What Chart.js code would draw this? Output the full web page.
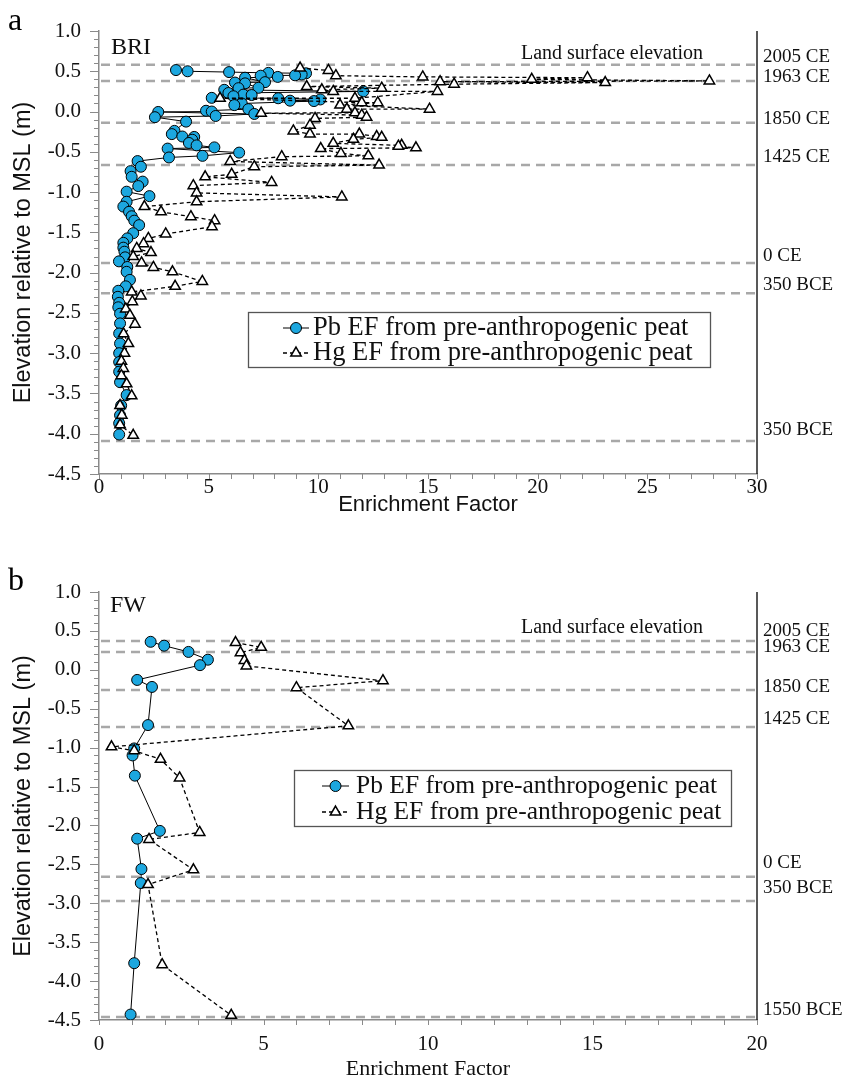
<!DOCTYPE html>
<html><head><meta charset="utf-8">
<script src="https://cdn.jsdelivr.net/npm/chart.js@4.4.1/dist/chart.umd.min.js"></script>
<style>
html,body{margin:0;padding:0;background:#fff;}
#wrap{position:relative;width:845px;height:1083px;overflow:hidden;}
#c1{position:absolute;left:0;top:0;}
#c2{position:absolute;left:0;top:540px;}
</style></head><body>
<div id="wrap">
<canvas id="c1" width="845" height="540"></canvas>
<canvas id="c2" width="845" height="543"></canvas>
</div>
<script>
// ---------------- DATA ----------------
const seriesNames = ['Pb EF from pre-anthropogenic peat', 'Hg EF from pre-anthropogenic peat'];
const axisTitleX = 'Enrichment Factor';
const axisTitleY = 'Elevation relative to MSL (m)';
const surfaceText = 'Land surface elevation';

// Panel a : BRI
const briPbEF = [3.51,4.04,5.93,7.72,9.44,9.24,8.94,7.37,8.15,6.66,7.57,6.2,6.66,7.27,6.36,5.71,12.05,5.9,6.58,6.96,6.13,5.14,8.17,10.09,8.71,9.8,6.51,6.17,6.81,4.88,5.14,2.7,7.08,5.32,2.55,3.97,3.44,3.32,3.8,4.34,4.25,4.1,4.45,5.26,3.13,6.39,4.72,3.19,1.76,1.91,1.44,1.49,1.99,1.79,1.26,2.3,1.26,1.11,1.37,1.49,1.61,1.83,1.56,1.29,1.11,1.11,1.16,1.19,0.91,1.29,1.26,1.41,1.22,0.88,0.86,0.92,0.88,0.96,0.96,0.92,0.96,0.92,0.92,0.92,0.96,1.26,1.01,0.96,0.92,0.92];
const briPbElev = [0.515,0.50,0.49,0.48,0.475,0.46,0.45,0.445,0.43,0.42,0.365,0.36,0.35,0.295,0.29,0.27,0.25,0.23,0.21,0.205,0.19,0.17,0.165,0.15,0.135,0.13,0.10,0.08,0.03,0.01,0.0,-0.005,-0.03,-0.055,-0.07,-0.125,-0.24,-0.28,-0.31,-0.315,-0.35,-0.39,-0.42,-0.445,-0.46,-0.51,-0.55,-0.57,-0.615,-0.685,-0.74,-0.81,-0.87,-0.925,-0.995,-1.05,-1.12,-1.18,-1.245,-1.30,-1.355,-1.41,-1.51,-1.575,-1.63,-1.69,-1.74,-1.81,-1.86,-1.93,-1.99,-2.09,-2.17,-2.225,-2.30,-2.375,-2.43,-2.51,-2.63,-2.755,-2.88,-3.0,-3.11,-3.23,-3.36,-3.52,-3.65,-3.77,-3.87,-4.01];
const briHgEF = [9.17,10.46,10.8,14.76,22.27,19.73,27.83,15.55,23.08,16.19,9.47,12.89,10.16,10.68,15.43,11.67,5.52,11.98,12.71,10.99,15.07,11.3,11.67,7.39,11.98,12.2,9.85,9.62,8.86,9.62,11.87,12.66,12.89,11.6,10.68,13.8,13.65,14.45,10.11,11.03,12.28,8.33,5.98,12.77,7.08,6.05,4.84,7.87,4.3,4.45,11.07,4.45,2.07,2.83,4.19,5.27,5.15,3.04,2.25,2.03,1.72,2.37,1.56,1.94,2.48,3.35,4.71,3.47,1.49,1.91,1.52,1.22,1.41,1.64,1.12,1.34,1.16,1.02,1.11,1.02,1.26,1.49,0.96,1.04,0.96,1.56];
const briHgElev = [0.54,0.51,0.445,0.43,0.42,0.40,0.38,0.37,0.36,0.34,0.31,0.29,0.27,0.25,0.25,0.165,0.165,0.11,0.11,0.08,0.03,0.03,-0.015,-0.02,-0.045,-0.07,-0.085,-0.17,-0.24,-0.28,-0.28,-0.31,-0.32,-0.345,-0.395,-0.42,-0.43,-0.45,-0.46,-0.52,-0.55,-0.56,-0.62,-0.665,-0.685,-0.78,-0.81,-0.88,-0.92,-1.01,-1.06,-1.12,-1.18,-1.245,-1.305,-1.355,-1.43,-1.52,-1.575,-1.64,-1.70,-1.75,-1.80,-1.88,-1.935,-1.99,-2.11,-2.17,-2.24,-2.29,-2.36,-2.45,-2.53,-2.64,-2.76,-2.88,-3.0,-3.1,-3.19,-3.28,-3.38,-3.53,-3.65,-3.77,-3.89,-4.02];
const briRefElev = [0.58, 0.38, -0.14, -0.665, -1.88, -2.255, -4.09];
const briRefLabels = ['2005 CE', '1963 CE', '1850 CE', '1425 CE', '0 CE', '350 BCE', '350 BCE'];

// Panel b : FW
const fwPbEF = [1.57,1.98,2.72,3.31,3.07,1.16,1.61,1.49,1.07,1.02,1.09,1.85,1.16,1.29,1.27,1.07,0.96];
const fwPbElev = [0.36,0.31,0.23,0.13,0.06,-0.13,-0.22,-0.71,-1.01,-1.1,-1.36,-2.07,-2.17,-2.56,-2.74,-3.77,-4.43];
const fwHgEF = [4.15,4.93,4.3,4.42,4.48,8.63,6.0,7.58,0.38,1.07,1.87,2.45,3.06,1.52,2.87,1.49,1.92,4.02];
const fwHgElev = [0.35,0.29,0.22,0.12,0.05,-0.14,-0.23,-0.72,-0.99,-1.04,-1.15,-1.39,-2.09,-2.18,-2.57,-2.76,-3.79,-4.44];
const fwRefElev = [0.37, 0.23, -0.26, -0.735, -2.66, -2.97, -4.46];
const fwRefLabels = ['2005 CE', '1963 CE', '1850 CE', '1425 CE', '0 CE', '350 BCE', '1550 BCE'];

// ---------------- LAYOUT / STYLE ----------------
const SERIF = "'Liberation Serif','Times New Roman',serif";
const SANS = "'Liberation Sans',Arial,sans-serif";
const PB_FILL = '#1ca7df';

const layoutA = {
  canvas: 'c1', site: 'BRI', letter: 'a', xMax: 30,
  pad: {top: 31, right: 88, bottom: 20, left: 0}, yW: 99, xH: 46,
  xTickPad: -7, xTitleFont: {family: SANS, size: 22}, xTitlePad: 2,
  refLabelDy: [-8, -4, -4, -8, -7, -8, -11], surfaceDy: -11,
  siteXY: [111, 54], letterXY: [8, 30],
  legend: {x: 248, y: 312, w: 462, h: 55, rows: [328, 353], line: [283, 309], textX: 313, font: 26.5}
};
const layoutB = {
  canvas: 'c2', site: 'FW', letter: 'b', xMax: 20,
  pad: {top: 52, right: 88, bottom: 1, left: 0}, yW: 99, xH: 62,
  xTickPad: 4, xTitleFont: {family: SERIF, size: 22}, xTitlePad: 0,
  refLabelDy: [-10, -5, -3, -8, -14, -13, -7], surfaceDy: -13,
  siteXY: [110, 72], letterXY: [8, 50],
  legend: {x: 294, y: 230, w: 437, h: 56, rows: [246, 272], line: [322, 349], textX: 356, font: 25.5}
};

function pts(xs, ys) { return xs.map((x, i) => ({x: x, y: ys[i]})); }

const decor = {
  id: 'decor',
  beforeDatasetsDraw(chart, args, o) {
    const {ctx, chartArea: a, scales: {y}} = chart;
    ctx.save();
    ctx.strokeStyle = '#a8a8a8'; ctx.lineWidth = 2.5; ctx.setLineDash([9, 6]);
    o.refElev.forEach(v => {
      const py = y.getPixelForValue(v);
      ctx.beginPath(); ctx.moveTo(a.left + 2, py); ctx.lineTo(a.right - 1, py); ctx.stroke();
    });
    ctx.restore();
  },
  afterDraw(chart, args, o) {
    const {ctx, chartArea: a, scales: {x, y}} = chart;
    const L = o.layout;
    ctx.save();
    // minor/major ticks
    ctx.strokeStyle = '#8a8a8a'; ctx.lineWidth = 1;
    for (let v = y.max; v >= y.min - 1e-9; v -= 0.1) {
      const py = Math.round(y.getPixelForValue(v)) + 0.5;
      const major = Math.abs(v * 2 - Math.round(v * 2)) < 1e-6;
      const len = major ? 9 : 5;
      ctx.beginPath(); ctx.moveTo(a.left - len, py); ctx.lineTo(a.left, py); ctx.stroke();
    }
    for (let v = x.min; v <= x.max + 1e-9; v += 1) {
      const px = Math.round(x.getPixelForValue(v)) + 0.5;
      ctx.beginPath(); ctx.moveTo(px, a.bottom); ctx.lineTo(px, a.bottom + 5); ctx.stroke();
    }
    // right frame line
    ctx.strokeStyle = '#222'; ctx.lineWidth = 1.5;
    ctx.beginPath(); ctx.moveTo(a.right, a.top); ctx.lineTo(a.right, a.bottom); ctx.stroke();
    // reference labels
    ctx.fillStyle = '#111'; ctx.textBaseline = 'middle'; ctx.textAlign = 'left';
    ctx.font = '19px ' + SERIF;
    o.refLabels.forEach((t, i) => {
      ctx.fillText(t, a.right + 6, y.getPixelForValue(o.refElev[i]) + L.refLabelDy[i]);
    });
    ctx.font = '20px ' + SERIF; ctx.textAlign = 'center';
    ctx.fillText(surfaceText, 612, y.getPixelForValue(o.refElev[0]) + L.surfaceDy);
    // site and panel letter
    ctx.textAlign = 'left'; ctx.textBaseline = 'alphabetic';
    ctx.font = '24px ' + SERIF;
    ctx.fillText(L.site, L.siteXY[0], L.siteXY[1]);
    ctx.fillStyle = '#000'; ctx.font = '32px ' + SERIF;
    ctx.fillText(L.letter, L.letterXY[0], L.letterXY[1]);
    // legend
    const g = L.legend;
    ctx.fillStyle = '#fff'; ctx.fillRect(g.x, g.y, g.w, g.h);
    ctx.strokeStyle = '#555'; ctx.lineWidth = 1.3; ctx.setLineDash([]);
    ctx.strokeRect(g.x + 0.5, g.y + 0.5, g.w, g.h);
    const mid = (g.line[0] + g.line[1]) / 2;
    ctx.strokeStyle = '#000'; ctx.lineWidth = 1;
    ctx.beginPath(); ctx.moveTo(g.line[0], g.rows[0]); ctx.lineTo(g.line[1], g.rows[0]); ctx.stroke();
    ctx.fillStyle = PB_FILL;
    Chart.helpers.drawPoint(ctx, {pointStyle: 'circle', radius: 5.5, borderWidth: 1}, mid, g.rows[0]);
    ctx.lineWidth = 1.3; ctx.setLineDash([4, 3]);
    ctx.beginPath(); ctx.moveTo(g.line[0], g.rows[1]); ctx.lineTo(g.line[1], g.rows[1]); ctx.stroke();
    ctx.setLineDash([]); ctx.lineWidth = 1.5; ctx.fillStyle = '#fff';
    Chart.helpers.drawPoint(ctx, {pointStyle: 'triangle', radius: 6, borderWidth: 1.5}, mid, g.rows[1]);
    ctx.fillStyle = '#111'; ctx.font = g.font + 'px ' + SERIF; ctx.textBaseline = 'middle';
    ctx.fillText(seriesNames[0], g.textX, g.rows[0]);
    ctx.fillText(seriesNames[1], g.textX, g.rows[1]);
    ctx.restore();
  }
};

function build(L, pbEF, pbElev, hgEF, hgElev, refElev, refLabels) {
  return new Chart(document.getElementById(L.canvas), {
    type: 'scatter',
    data: {
      datasets: [
        {label: seriesNames[1], data: pts(hgEF, hgElev), showLine: true,
         borderColor: '#000', borderWidth: 1.3, borderDash: [4, 3],
         pointStyle: 'triangle', pointRadius: 6, pointBorderWidth: 1.5,
         pointBackgroundColor: '#fff', pointBorderColor: '#000'},
        {label: seriesNames[0], data: pts(pbEF, pbElev), showLine: true,
         borderColor: '#000', borderWidth: 1,
         pointStyle: 'circle', pointRadius: 5.5, pointBorderWidth: 1,
         pointBackgroundColor: PB_FILL, pointBorderColor: '#000'}
      ]
    },
    options: {
      responsive: false, animation: false, devicePixelRatio: 1,
      layout: {padding: L.pad},
      plugins: {
        legend: {display: false}, tooltip: {enabled: false},
        decor: {layout: L, refElev: refElev, refLabels: refLabels}
      },
      scales: {
        x: {
          type: 'linear', min: 0, max: L.xMax,
          afterFit(s) { s.height = L.xH; },
          ticks: {stepSize: 5, color: '#111', font: {family: SERIF, size: 21}, padding: L.xTickPad, maxRotation: 0, autoSkip: false},
          grid: {display: false},
          border: {display: true, color: '#8a8a8a', width: 1.5},
          title: {display: true, text: axisTitleX, color: '#111', font: L.xTitleFont, padding: {top: 0, bottom: L.xTitlePad}}
        },
        y: {
          type: 'linear', min: -4.5, max: 1.0,
          afterFit(s) { s.width = L.yW; },
          ticks: {stepSize: 0.5, color: '#111', font: {family: SERIF, size: 21}, padding: 10,
                  callback: v => Number(v).toFixed(1)},
          grid: {display: false},
          border: {display: true, color: '#8a8a8a', width: 1.5},
          title: {display: true, text: axisTitleY, color: '#111', font: {family: SANS, size: 23.5}, padding: {top: 9, bottom: 0}}
        }
      }
    },
    plugins: [decor]
  });
}

build(layoutA, briPbEF, briPbElev, briHgEF, briHgElev, briRefElev, briRefLabels);
build(layoutB, fwPbEF, fwPbElev, fwHgEF, fwHgElev, fwRefElev, fwRefLabels);
</script>
</body></html>
